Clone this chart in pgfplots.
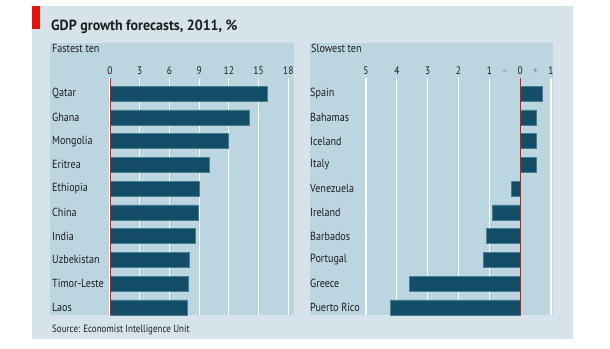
\documentclass[border=0pt]{standalone}
\usepackage{pgfplots}
\pgfplotsset{compat=1.18}
\usepackage{pgfplotstable}
\usepackage{fontspec}
\setmainfont{PT Sans}[FakeStretch=0.86]
\newfontfamily\titlefont{PT Sans}[FakeStretch=0.95]
\definecolor{outerbg}{RGB}{214,227,234}
\definecolor{panelbg}{RGB}{187,214,224}
\definecolor{barcol}{RGB}{18,78,104}
\definecolor{baredge}{RGB}{70,125,145}
\definecolor{ecored}{RGB}{227,18,11}
\definecolor{txt}{RGB}{30,30,30}

\pgfplotstableread{
idx val
0 15.9
1 14.1
2 11.9
3 10.0
4 9.05
5 8.95
6 8.65
7 7.95
8 7.85
9 7.75
}\fastest

\pgfplotstableread{
idx val
0 0.70
1 0.52
2 0.52
3 0.52
4 -0.29
5 -0.89
6 -1.09
7 -1.19
8 -3.59
9 -4.20
}\slowest

\pgfplotsset{
  ecopanel/.style={
    scale only axis,
    height=237bp,
    y dir=reverse,
    ymin=-0.657, ymax=9.324,
    axis line style={draw=none},
    major tick length=0,
    xticklabel pos=upper,
    xmajorgrids,
    grid style={white, line width=1.1bp},
    ytick={0,...,9},
    /pgf/number format/assume math mode=true,
    yticklabel style={anchor=west, inner sep=0pt, font=\fontsize{11.8}{13}\selectfont, text=txt},
    xticklabel style={inner sep=0pt, yshift=3bp, font=\fontsize{11}{12}\selectfont, text=txt},
    xbar, bar width=15bp,
    clip=false,
  }
}

\begin{document}
\begin{tikzpicture}
\fill[white] (0bp,0bp) rectangle (610bp,-349bp);
\fill[outerbg] (32bp,-6bp) rectangle (573bp,-339bp);
\fill[ecored] (32bp,-6bp) rectangle (40bp,-29bp);
\fill[panelbg] (50bp,-43bp) rectangle (294bp,-315bp);
\fill[panelbg] (310bp,-43bp) rectangle (553bp,-315bp);
\node[anchor=base west, inner sep=0pt, text=txt, font=\titlefont\fontsize{14.8}{16}\selectfont\bfseries] at (51bp,-30.5bp) {GDP growth forecasts, 2011, \%};
\node[anchor=base west, inner sep=0pt, text=txt, font=\fontsize{11.8}{13}\selectfont] at (52bp,-52.5bp) {Fastest ten};
\node[anchor=base west, inner sep=0pt, text=txt, font=\fontsize{11.8}{13}\selectfont] at (311bp,-52.5bp) {Slowest ten};
\node[anchor=base west, inner sep=0pt, text=txt, font=\fontsize{10.5}{13}\selectfont] at (52bp,-332bp) {Source: Economist Intelligence Unit};

\begin{axis}[ecopanel,
  at={(110bp,-78bp)}, anchor=north west,
  width=178.3bp,
  xmin=0, xmax=18,
  xtick={0,3,...,18},
  yticklabels={Qatar,Ghana,Mongolia,Eritrea,Ethiopia,China,India,Uzbekistan,Timor-Leste,Laos},
  yticklabel style={xshift=-58bp},
]
\addplot[fill=barcol, draw=baredge, line width=0.5bp] table[x=val, y=idx] {\fastest};
\draw[ecored, line width=1bp] (axis cs:0,-0.657) -- (axis cs:0,9.324);
\end{axis}

\begin{axis}[ecopanel,
  at={(366bp,-78bp)}, anchor=north west,
  width=185bp,
  xmin=-5, xmax=1,
  xtick={-5,-4,-3,-2,-1,1},
  xticklabels={5,4,3,2,1,1},
  extra x ticks={-0.5,0,0.5},
  extra x tick labels={\textcolor{gray}{\textendash},0,\textcolor{gray}{+}},
  extra x tick style={grid=none},
  yticklabels={Spain,Bahamas,Iceland,Italy,Venezuela,Ireland,Barbados,Portugal,Greece,Puerto Rico},
  yticklabel style={xshift=-56bp},
]
\addplot[fill=barcol, draw=baredge, line width=0.5bp] table[x=val, y=idx] {\slowest};
\draw[ecored, line width=1bp] (axis cs:0,-0.657) -- (axis cs:0,9.324);
\end{axis}
\end{tikzpicture}
\end{document}
